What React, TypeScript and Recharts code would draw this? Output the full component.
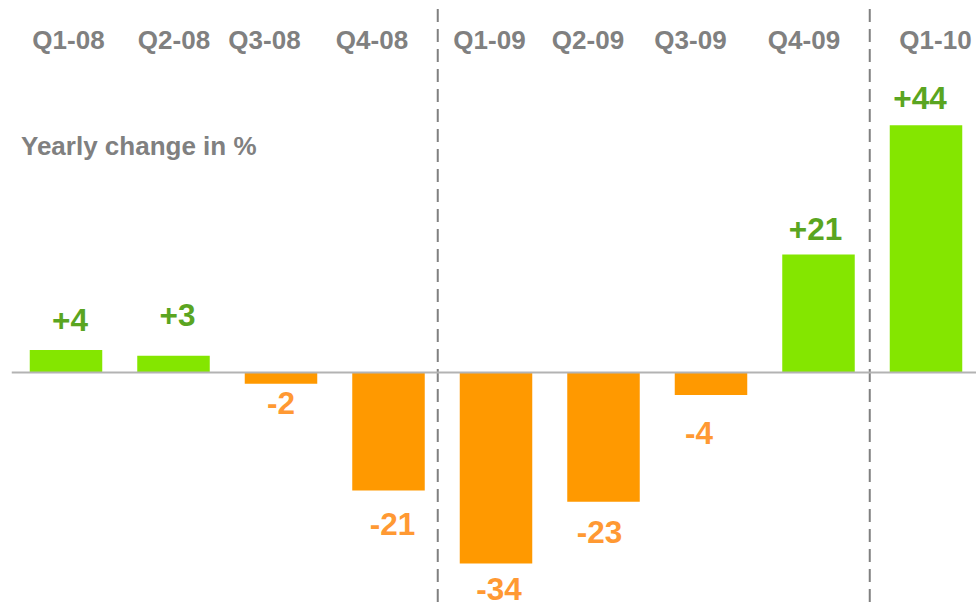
import React from "react";
import { BarChart, Bar, XAxis, YAxis, Cell, LabelList, ReferenceLine } from "recharts";

const QUARTERS = ["Q1-08", "Q2-08", "Q3-08", "Q4-08", "Q1-09", "Q2-09", "Q3-09", "Q4-09", "Q1-10"];
const CHANGE = [4, 3, -2, -21, -34, -23, -4, 21, 44];
const TITLE = "Yearly change in %";

// hand-placed labels in the original: small nudges relative to the bar / band
const TICK_DX = [3, 1, -16, -16, -6, -15, -20, -14, 10];
const LABEL_DX = [4, 4, 0, 4, 3, -4, -12, -3, -6];
const LABEL_DY = [-19, -30, 30, 44, 36, 41, 49, -14, -16];

const FONT = "'Liberation Sans', Arial, sans-serif";
const GREEN = "#84E600";
const GREEN_TEXT = "#5AA521";
const ORANGE = "#FF9900";
const ORANGE_TEXT = "#FF9933";
const GREY = "#808080";

const rows = QUARTERS.map((q, i) => ({ quarter: q, change: CHANGE[i] }));

function QuarterTick(props: any) {
  const { x, index } = props;
  return (
    <text x={x + (TICK_DX[index] || 0)} y={49} textAnchor="middle" fontFamily={FONT} fontSize={26} fontWeight="bold" fill={GREY}>
      {props.payload.value}
    </text>
  );
}

function ValueLabel(props: any) {
  const { x, y, width, height, value, index } = props;
  const top = Math.min(y, y + height);
  const bottom = Math.max(y, y + height);
  const pos = value >= 0;
  const ty = (pos ? top : bottom) + LABEL_DY[index];
  return (
    <text
      x={x + width / 2 + LABEL_DX[index]}
      y={ty}
      textAnchor="middle"
      fontFamily={FONT}
      fontSize={31.5}
      fontWeight="bold"
      fill={pos ? GREEN_TEXT : ORANGE_TEXT}
    >
      {pos ? `+${value}` : `${value}`}
    </text>
  );
}

function Divider(props: any) {
  const x = props.x1 + (props.dx || 0);
  return <line x1={x} x2={x} y1={9} y2={607} stroke={GREY} strokeWidth={2} strokeDasharray="13 7" />;
}

export default function App() {
  return (
    <div style={{ position: "absolute", left: 0, top: 0, width: 976, height: 607, overflow: "hidden", background: "#fff" }}>
      <BarChart width={980} height={607} data={rows} margin={{ top: 51.5, right: 0.75, bottom: 9.7, left: 11.75 }}>
        <XAxis dataKey="quarter" orientation="top" height={40} axisLine={false} tickLine={false} interval={0} tick={<QuarterTick />} />
        <YAxis hide domain={[-40, 50]} />
        <ReferenceLine x="Q1-09" position="start" shape={<Divider dx={-4} />} />
        <ReferenceLine x="Q1-10" position="start" shape={<Divider dx={-2} />} />
        <Bar dataKey="change" barSize={72.5} isAnimationActive={false}>
          {rows.map((r, i) => (
            <Cell key={i} fill={r.change >= 0 ? GREEN : ORANGE} />
          ))}
          <LabelList dataKey="change" content={<ValueLabel />} />
        </Bar>
        <ReferenceLine y={0} stroke="#B3B3B3" strokeWidth={2} />
      </BarChart>
      <div
        style={{
          position: "absolute",
          left: 21,
          top: 133,
          fontFamily: FONT,
          fontSize: 26,
          lineHeight: "26px",
          fontWeight: "bold",
          color: GREY,
          whiteSpace: "nowrap",
        }}
      >
        {TITLE}
      </div>
    </div>
  );
}
